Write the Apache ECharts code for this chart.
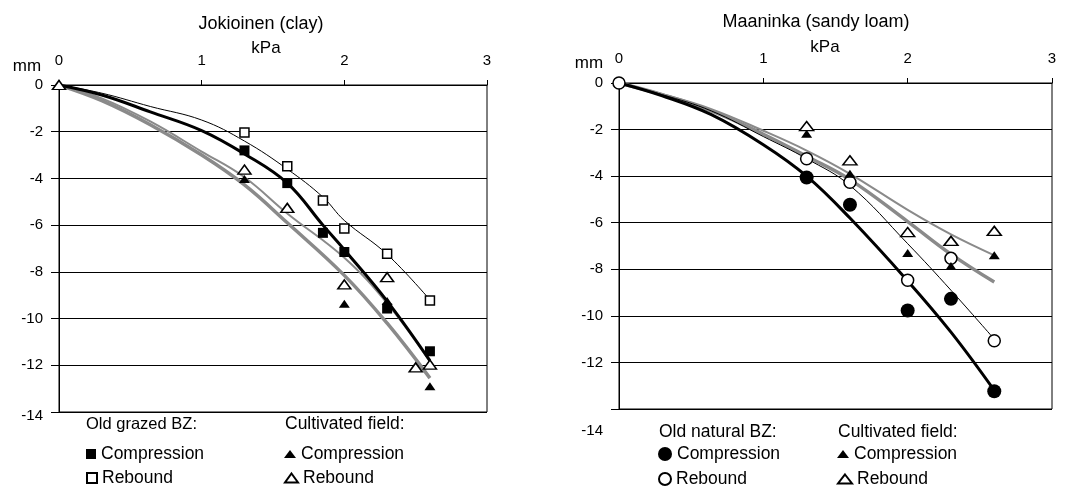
<!DOCTYPE html>
<html><head><meta charset="utf-8">
<script src="https://cdn.jsdelivr.net/npm/echarts@6/dist/echarts.min.js"></script>
<style>html,body{margin:0;padding:0;background:#fff}#c{width:1072px;height:490px}</style>
</head><body><div id="c"></div><script>
// ---- tick labels ----
const xTicks = [0, 1, 2, 3];
const yTicks = [0, -2, -4, -6, -8, -10, -12, -14];

// ---- Jokioinen (clay): measured points [kPa, mm] ----
const jokiBZCompression   = [[1.3,-2.8],[1.6,-4.2],[1.85,-6.33],[2.0,-7.15],[2.3,-9.57],[2.6,-11.4]];
const jokiBZRebound       = [[1.3,-2.03],[1.6,-3.48],[1.85,-4.95],[2.0,-6.14],[2.3,-7.22],[2.6,-9.23]];
const jokiCultCompression = [[1.3,-4.02],[2.0,-9.37],[2.3,-9.25],[2.6,-12.9]];
const jokiCultRebound     = [[0,0],[1.3,-3.62],[1.6,-5.26],[2.0,-8.54],[2.3,-8.23],[2.5,-12.09],[2.6,-11.97]];
// ---- Jokioinen curves ----
const jokiBZCompCurve   = [[0,0],[0.3,-0.43],[0.64,-1.15],[1.0,-1.95],[1.3,-2.95],[1.6,-4.2],[1.85,-6.0],[2.0,-7.05],[2.3,-9.25],[2.6,-11.8]];
const jokiBZRebCurve    = [[0,0],[0.3,-0.35],[0.64,-0.92],[1.0,-1.5],[1.3,-2.4],[1.6,-3.6],[1.85,-4.8],[2.0,-5.8],[2.3,-7.25],[2.6,-9.2]];
const jokiCultCompCurve = [[0,0],[0.3,-0.67],[0.64,-1.7],[1.0,-3.0],[1.3,-4.28],[1.6,-5.9],[2.0,-8.15],[2.3,-10.2],[2.6,-12.55]];
const jokiCultRebCurve  = [[0,0],[0.3,-0.57],[0.64,-1.56],[1.0,-2.85],[1.3,-3.95],[1.6,-5.5],[2.0,-7.4],[2.3,-9.35],[2.6,-11.85]];

// ---- Maaninka (sandy loam): measured points ----
const maanBZCompression   = [[1.3,-4.06],[1.6,-5.23],[2.0,-9.77],[2.3,-9.27],[2.6,-13.24]];
const maanBZRebound       = [[0,0],[1.3,-3.25],[1.6,-4.26],[2.0,-8.47],[2.3,-7.53],[2.6,-11.07]];
const maanCultCompression = [[1.3,-2.18],[1.6,-3.9],[2.0,-7.3],[2.3,-7.86],[2.6,-7.4]];
const maanCultRebound     = [[1.3,-1.85],[1.6,-3.32],[2.0,-6.4],[2.3,-6.78],[2.6,-6.35]];
// ---- Maaninka curves ----
const maanBZCompCurve   = [[0,0],[0.3,-0.55],[0.64,-1.36],[1.0,-2.65],[1.3,-4.0],[1.6,-5.8],[2.0,-8.5],[2.3,-10.7],[2.6,-13.2]];
const maanBZRebCurve    = [[0,0],[0.3,-0.5],[0.64,-1.2],[1.0,-2.3],[1.3,-3.25],[1.6,-4.4],[2.0,-6.9],[2.3,-8.9],[2.6,-11.0]];
const maanCultCompCurve = [[0,0],[0.3,-0.5],[0.64,-1.2],[1.0,-2.2],[1.3,-3.15],[1.6,-4.15],[2.0,-5.95],[2.3,-7.35],[2.6,-8.55]];
const maanCultRebCurve  = [[0,0],[0.3,-0.48],[0.64,-1.12],[1.0,-2.05],[1.3,-2.9],[1.6,-3.9],[2.0,-5.45],[2.3,-6.5],[2.6,-7.4]];

const FONT = 'Liberation Sans, Arial, sans-serif';
const chart = echarts.init(document.getElementById('c'), null, {renderer:'canvas'});

function xAxisFor(g){
  return {type:'value', gridIndex:g, position:'top', min:xTicks[0], max:xTicks[xTicks.length-1], interval:1,
    axisLine:{show:true, onZero:false, lineStyle:{color:'#000', width:1}},
    axisTick:{show:true, length:5, lineStyle:{color:'#000'}},
    axisLabel:{fontSize:15, color:'#000', margin:17, fontFamily:FONT},
    splitLine:{show:false}};
}
function yAxisFor(g, lowPad){
  return {type:'value', gridIndex:g, min:yTicks[yTicks.length-1], max:yTicks[0], interval:2,
    axisLine:{show:true, onZero:false, lineStyle:{color:'#000', width:1}},
    axisTick:{show:true, length:8, lineStyle:{color:'#000'}},
    axisLabel:{fontSize:15, color:'#000', margin:16, fontFamily:FONT,
      formatter: v => v === yTicks[yTicks.length-1] ? '{low|' + v + '}' : String(v),
      rich:{low:{fontSize:15, color:'#000', fontFamily:FONT, padding:[lowPad,0,0,0]}}},
    splitLine:{show:true, lineStyle:{color:'#000', width:1}}};
}
function curve(name, g, data, color, width){
  return {name, type:'line', xAxisIndex:g, yAxisIndex:g, data, smooth:0.4, symbol:'none',
    lineStyle:{color, width}, silent:true, z:2};
}
const filled = {color:'#000', borderColor:'#000', borderWidth:0, opacity:1};
const open = {color:'#fff', borderColor:'#000', borderWidth:1.5, opacity:1};
function pts(name, g, data, symbol, size, style){
  return {name, type:'scatter', xAxisIndex:g, yAxisIndex:g, data, symbol, symbolSize:size,
    itemStyle:style, z:5};
}
const legendText = {fontSize:17.5, color:'#000', fontFamily:FONT};
const fmt = n => n.split(': ')[1];
function txt(text, x, y, size, align){
  return {type:'text', style:{text, fontSize:size, fontFamily:FONT, fill:'#000', align:align||'center', verticalAlign:'middle', x, y}};
}
function legendItem(left, top, w, h, name){
  return {left, top, orient:'horizontal', padding:0, itemWidth:w, itemHeight:h,
    textStyle:legendText, formatter:fmt, data:[name]};
}

chart.setOption({
  animation:false,
  grid:[
    {left:59, top:85, width:428, height:327, show:true, borderColor:'#000', borderWidth:1, backgroundColor:'transparent'},
    {left:619, top:83, width:433, height:326, show:true, borderColor:'#000', borderWidth:1, backgroundColor:'transparent'}
  ],
  xAxis:[xAxisFor(0), xAxisFor(1)],
  yAxis:[yAxisFor(0, 8), yAxisFor(1, 44)],
  graphic:[
    txt('Jokioinen (clay)', 261, 24, 18),
    txt('Maaninka (sandy loam)', 816, 22, 18),
    txt('kPa', 266, 48, 17),
    txt('kPa', 825, 47, 17),
    txt('mm', 27, 66, 17),
    txt('mm', 589, 63, 17),
    txt('Old grazed BZ:', 86, 424, 16.5, 'left'),
    txt('Cultivated field:', 285, 424, 17.5, 'left'),
    txt('Old natural BZ:', 659, 432, 17.5, 'left'),
    txt('Cultivated field:', 838, 432, 17.5, 'left')
  ],
  legend:[
    legendItem(86, 445, 10, 10, 'Old grazed BZ: Compression'),
    legendItem(86, 469, 10, 10, 'Old grazed BZ: Rebound'),
    legendItem(284, 445, 12, 8, 'Cultivated field (J): Compression'),
    legendItem(284, 469, 13, 9, 'Cultivated field (J): Rebound'),
    legendItem(658, 445, 14, 14, 'Old natural BZ: Compression'),
    legendItem(658, 470, 12, 12, 'Old natural BZ: Rebound'),
    legendItem(837, 445, 12, 8, 'Cultivated field (M): Compression'),
    legendItem(837, 470, 14, 9, 'Cultivated field (M): Rebound')
  ],
  series:[
    curve('J cult comp curve', 0, jokiCultCompCurve, '#8a8a8a', 3.5),
    curve('J cult reb curve', 0, jokiCultRebCurve, '#8a8a8a', 2),
    curve('J BZ comp curve', 0, jokiBZCompCurve, '#000', 3),
    curve('J BZ reb curve', 0, jokiBZRebCurve, '#000', 1),
    pts('Old grazed BZ: Compression', 0, jokiBZCompression, 'rect', 10, filled),
    pts('Old grazed BZ: Rebound', 0, jokiBZRebound, 'rect', 9, open),
    pts('Cultivated field (J): Compression', 0, jokiCultCompression, 'triangle', [11,8], filled),
    pts('Cultivated field (J): Rebound', 0, jokiCultRebound, 'triangle', [13,9], open),

    curve('M cult comp curve', 1, maanCultCompCurve, '#8a8a8a', 3.5),
    curve('M cult reb curve', 1, maanCultRebCurve, '#8a8a8a', 2),
    curve('M BZ comp curve', 1, maanBZCompCurve, '#000', 3),
    curve('M BZ reb curve', 1, maanBZRebCurve, '#000', 1),
    pts('Old natural BZ: Compression', 1, maanBZCompression, 'circle', 14, filled),
    pts('Old natural BZ: Rebound', 1, maanBZRebound, 'circle', 12, open),
    pts('Cultivated field (M): Compression', 1, maanCultCompression, 'triangle', [11,8], filled),
    pts('Cultivated field (M): Rebound', 1, maanCultRebound, 'triangle', [14,9], open)
  ]
});
</script></body></html>
